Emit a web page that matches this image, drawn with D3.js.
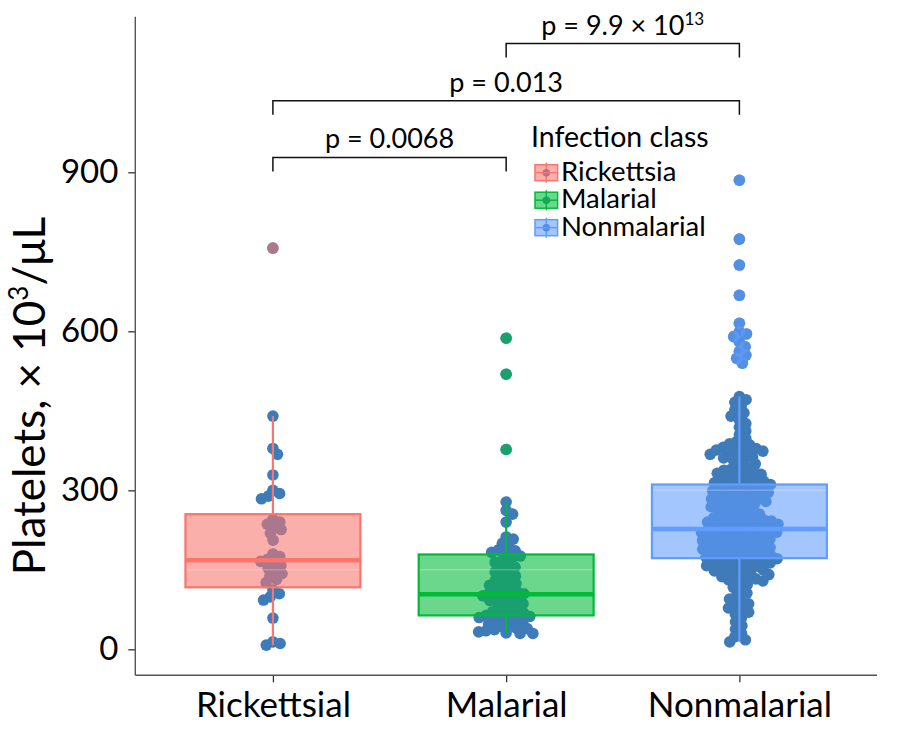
<!DOCTYPE html>
<html><head><meta charset="utf-8">
<script src="https://cdn.jsdelivr.net/npm/d3@7"></script>
<style>body{margin:0;background:#fff} svg{display:block} text{font-family:Lato,"Open Sans",sans-serif;fill:#000}</style>
</head><body><svg id="c" width="900" height="733"></svg>
<script>
const categories = ["Rickettsial","Malarial","Nonmalarial"];
const legendLabels = ["Rickettsia","Malarial","Nonmalarial"];
const legendTitle = "Infection class";
const colors = ["#F8766D","#00BA38","#619CFF"];
const yTicks = [0,300,600,900];

const rickettsialValues = [757,440,379,368,329,300,294,289,284,245,240,236,231,226,219,206,180,175,170,166,162,158,153,148,143,138,132,126,112,105,99,93,59,14,11,8];
const malarialValues = [587,519,377,278,262,255,240,212,208,200,193,188,186,183,180,176,172,168,164,159,155,150,146,142,138,134,130,127,124,121,118,114,111,109,107,105,103,101,99,97,95,92,89,86,83,80,77,74,71,69,67,65,64,62,60,58,56,53,50,48,45,43,41,39,37,35,33,31,30,30];
const nonmalarialValues = [885,774,725,668,615,599,595,590,580,571,562,555,549,540,
 477,471,466,459,452,446,440,433,426,419,412,405,398,392,
 388,386,383,381,379,377,376,374,372,370,368,365,363,361,358,354,350,346,342,340,338,336,334,332,330,
 326,324,322,321,319,317,316,314,312,311,309,307,306,304,302,301,299,297,296,294,292,291,289,287,286,284,282,281,279,277,275,273,271,269,267,265,263,261,259,257,255,253,251,
 249,248,246,245,244,242,241,240,238,237,236,234,233,232,230,229,228,226,225,224,222,221,220,218,217,216,214,213,212,210,209,208,206,205,204,202,201,200,198,197,196,194,193,192,190,189,
 187,186,184,183,182,180,179,178,176,175,174,172,171,170,168,167,165,164,
 163,161,160,158,157,155,153,152,150,148,147,145,143,141,139,137,135,133,131,129,127,
 122,117,112,106,100,95,90,86,82,
 78,74,70,67,60,52,45,38,30,24,18,14];
const groupValues = [rickettsialValues, malarialValues, nonmalarialValues];
// [lower whisker, Q1, median, Q3, upper whisker]
const boxStats = [[8,117,168,255,440],[30,64,104,179,278],[14,172,227,311,477]];
const comparisons = [
  {a:0,b:1,label:"p = 0.0068",sup:"",level:928},
  {a:0,b:2,label:"p = 0.013",sup:"",level:1035},
  {a:1,b:2,label:"p = 9.9 × 10",sup:"13",level:1143}
];
const yTitle = "Platelets, × 10";
const yTitleSup = "3";
const yTitleEnd = "/μL";

const svg = d3.select("#c");
const L = 135.3, R = 877, T = 16.7, B = 675.3;
const y = d3.scaleLinear().domain([-49, 1193.6]).range([B, T]);
const x = d3.scalePoint().domain(categories).range([L, R]).padding(0.59);
const step = x.step();
const boxW = step*0.75;
const dotColor = "#3f7bb8";
const dotR = 5.8;
const swarmD = 7.4;

// beeswarm layout
function swarm(vals, diam){
  const pts = vals.map(v=>({v, py:y(v)})).sort((a,b)=>a.py-b.py);
  const placed=[];
  for(const p of pts){
    const cands=[0];
    for(const q of placed){
      const dy=p.py-q.py;
      if(Math.abs(dy)<diam){const dx=Math.sqrt(diam*diam-dy*dy);cands.push(q.dx+dx,q.dx-dx);}
    }
    cands.sort((a,b)=>Math.abs(a)-Math.abs(b));
    let best=0;
    for(const c of cands){
      if(placed.every(q=>(q.dx-c)**2+(q.py-p.py)**2>=diam*diam-0.01)){best=c;break;}
    }
    p.dx=best; placed.push(p);
  }
  return placed;
}

const layouts = groupValues.map(v=>swarm(v, swarmD));

// dots
layouts.forEach((pts,i)=>{
  svg.append("g").selectAll("circle").data(pts).join("circle")
    .attr("cx",d=>x(categories[i])+d.dx).attr("cy",d=>d.py).attr("r",dotR)
    .attr("fill",dotColor);
});

// boxes
const gridVals=[150,300,450,600,750,900];
boxStats.forEach((s,i)=>{
  const cx=x(categories[i]), col=colors[i];
  const g=svg.append("g");
  g.append("line").attr("x1",cx).attr("x2",cx).attr("y1",y(s[3])).attr("y2",y(s[4])).attr("stroke",col).attr("stroke-width",2.2);
  g.append("line").attr("x1",cx).attr("x2",cx).attr("y1",y(s[0])).attr("y2",y(s[1])).attr("stroke",col).attr("stroke-width",2.2);
  g.append("rect").attr("x",cx-boxW/2).attr("y",y(s[3])).attr("width",boxW).attr("height",y(s[1])-y(s[3]))
    .attr("fill",col).attr("fill-opacity",0.58).attr("stroke",col).attr("stroke-width",2.2);
  gridVals.filter(v=>v>s[1]&&v<s[3]).forEach(v=>{
    g.append("line").attr("x1",cx-boxW/2+1).attr("x2",cx+boxW/2-1).attr("y1",y(v)).attr("y2",y(v))
      .attr("stroke","#fff").attr("stroke-opacity",0.22).attr("stroke-width",1.5);
  });
  g.append("line").attr("x1",cx-boxW/2).attr("x2",cx+boxW/2).attr("y1",y(s[2])).attr("y2",y(s[2])).attr("stroke",col).attr("stroke-width",4.5);
  const op = layouts[i].filter(d=>d.v>s[4]||d.v<s[0]);
  g.selectAll("circle.o").data(op).join("circle").attr("class","o")
    .attr("cx",d=>cx+d.dx).attr("cy",d=>d.py).attr("r",dotR).attr("fill",col).attr("fill-opacity",0.6);
});

// axes
const yAxis = d3.axisLeft(y).tickValues(yTicks).tickSize(7).tickPadding(10);
const ya = svg.append("g").attr("transform",`translate(${L},0)`).call(yAxis);
ya.select(".domain").remove();
ya.selectAll("line").attr("stroke","#333").attr("stroke-width",1.3);
ya.selectAll("text").attr("font-size",33).attr("fill","#000").attr("font-family","Lato");
svg.append("line").attr("x1",L).attr("x2",L).attr("y1",T).attr("y2",B).attr("stroke","#555").attr("stroke-width",1.4);

const xAxis = d3.axisBottom(x).tickSize(7);
const xa = svg.append("g").attr("transform",`translate(0,${B})`).call(xAxis);
xa.select(".domain").remove();
xa.selectAll("line").attr("stroke","#333").attr("stroke-width",1.3);
xa.selectAll("text").attr("font-size",35).attr("fill","#000").attr("y",42).attr("dy","0").attr("font-family","Lato");
svg.append("line").attr("x1",L).attr("x2",R).attr("y1",B).attr("y2",B).attr("stroke","#555").attr("stroke-width",1.4);

// y title
const yt = svg.append("text").attr("transform","translate(45,396) rotate(-90)").attr("text-anchor","middle").attr("font-size",44);
yt.append("tspan").text(yTitle);
yt.append("tspan").text(yTitleSup).attr("font-size",26).attr("dy",-17);
yt.append("tspan").text(yTitleEnd).attr("dy",17);

// comparison brackets
comparisons.forEach(c=>{
  const x1=x(categories[c.a]), x2=x(categories[c.b]), yy=y(c.level), tip=14;
  svg.append("path").attr("d",`M${x1},${yy+tip}V${yy}H${x2}V${yy+tip}`).attr("fill","none").attr("stroke","#111").attr("stroke-width",1.5);
  const t=svg.append("text").attr("x",(x1+x2)/2).attr("y",yy-9).attr("text-anchor","middle").attr("font-size",27);
  t.append("tspan").text(c.label);
  if(c.sup) t.append("tspan").text(c.sup).attr("font-size",17).attr("dy",-10);
});

// legend
const lg = svg.append("g").attr("transform","translate(531,0)");
lg.append("text").attr("x",0).attr("y",147).attr("font-size",28.5).text(legendTitle);
legendLabels.forEach((lab,i)=>{
  const cy=172.7+i*27.5, kx=4, kw=22.6, col=colors[i];
  lg.append("line").attr("x1",kx+kw/2).attr("x2",kx+kw/2).attr("y1",cy-10).attr("y2",cy+10).attr("stroke",col).attr("stroke-width",1.5);
  lg.append("circle").attr("cx",kx+kw/2).attr("cy",cy).attr("r",3.8).attr("fill",dotColor);
  lg.append("rect").attr("x",kx).attr("y",cy-8).attr("width",kw).attr("height",16).attr("fill",col).attr("fill-opacity",0.58).attr("stroke",col).attr("stroke-width",1.5);
  lg.append("line").attr("x1",kx).attr("x2",kx+kw).attr("y1",cy).attr("y2",cy).attr("stroke",col).attr("stroke-width",1.5);
  lg.append("text").attr("x",30).attr("y",cy+8).attr("font-size",27.5).text(lab);
});
</script></body></html>
